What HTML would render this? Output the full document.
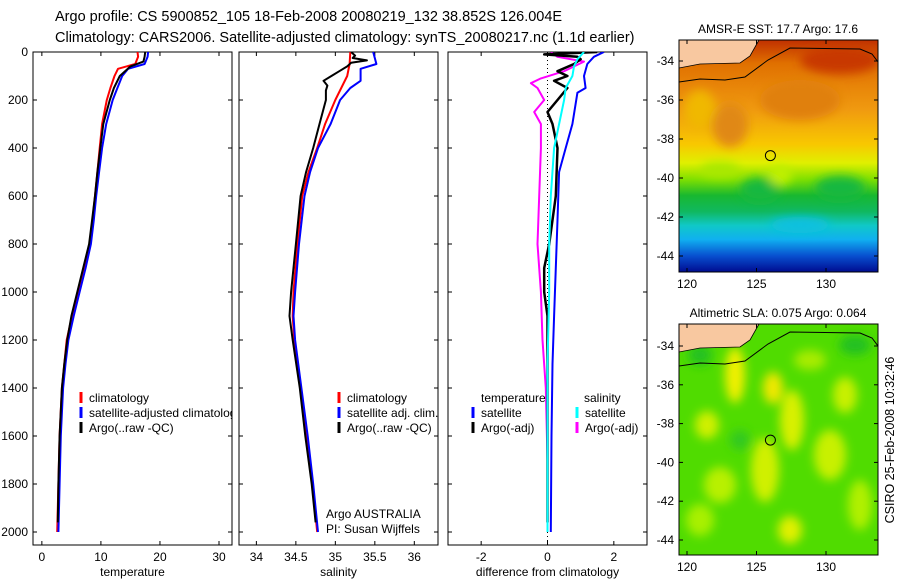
<!DOCTYPE html>
<html><head><meta charset="utf-8"><style>
body{margin:0;background:#fff;}
svg{display:block;font-family:"Liberation Sans",sans-serif;}
</style></head><body>
<svg id="fig" width="900" height="580" viewBox="0 0 900 580">
<defs>
<clipPath id="c1"><rect x="33" y="52" width="199" height="493"/></clipPath>
<clipPath id="c2"><rect x="239" y="52" width="199" height="493"/></clipPath>
<clipPath id="c3"><rect x="448" y="52" width="199" height="493"/></clipPath>
<clipPath id="m1"><rect x="679" y="40" width="199" height="232"/></clipPath>
<clipPath id="m2"><rect x="679" y="324" width="199" height="231"/></clipPath>
<linearGradient id="sstg" x1="0" y1="0" x2="0" y2="1">
<stop offset="0" stop-color="#c03000"/><stop offset="0.1" stop-color="#e07000"/><stop offset="0.3" stop-color="#f09a10"/>
<stop offset="0.45" stop-color="#f8c800"/><stop offset="0.53" stop-color="#e0f000"/><stop offset="0.6" stop-color="#80e000"/>
<stop offset="0.67" stop-color="#18b830"/><stop offset="0.74" stop-color="#10b860"/><stop offset="0.8" stop-color="#10c8c8"/>
<stop offset="0.86" stop-color="#10b0f0"/><stop offset="0.93" stop-color="#0850d0"/><stop offset="1" stop-color="#000c90"/></linearGradient>
<filter id="blur" x="-50%" y="-50%" width="200%" height="200%"><feGaussianBlur stdDeviation="5"/></filter>
</defs>
<text x="55" y="21" font-size="14.5">Argo profile: CS 5900852_105 18-Feb-2008 20080219_132 38.852S 126.004E</text>
<text x="55" y="42" font-size="14.5">Climatology: CARS2006. Satellite-adjusted climatology: synTS_20080217.nc (1.1d earlier)</text>
<g id="p1"></g>
<g id="p2"></g>
<g id="p3"></g>
<g id="maps"></g>
<text x="894" y="440" font-size="12.5" transform="rotate(-90 894 440)" text-anchor="middle">CSIRO 25-Feb-2008 10:32:46</text>
</svg>
<script>
const NS="http://www.w3.org/2000/svg";
function mk(parent,tag,attrs,txt){const e=document.createElementNS(NS,tag);for(const k in attrs)e.setAttribute(k,attrs[k]);if(txt!==undefined)e.textContent=txt;parent.appendChild(e);return e;}

// ---- data ----
const depthTicks=[0,200,400,600,800,1000,1200,1400,1600,1800,2000];
const tempTicks=[0,10,20,30];
const salTicks=[34,34.5,35,35.5,36];
const diffTicks=[-2,0,2];
const tempClimD=[0,20,50,70,100,150,200,300,400,500,600,700,800,900,1000,1100,1200,1300,1400,1600,1800,2000];
const tempClim=[16.2,16.3,15.8,12.9,12.3,11.6,11.0,10.2,9.8,9.4,9.0,8.6,8.1,7.1,6.1,5.1,4.2,3.8,3.4,3.0,2.8,2.6];
const tempSat=[18.0,17.9,17.4,14.6,13.6,12.8,12.0,10.9,10.2,9.7,9.2,8.8,8.3,7.4,6.4,5.4,4.5,4.0,3.6,3.2,3.0,2.8];
const tempArgoD=[0,20,40,60,100,150,200,300,400,500,600,700,800,900,1000,1100,1200,1300,1400,1600,1800,1960];
const tempArgo=[17.5,17.4,17.2,15.0,13.2,12.2,11.5,10.4,9.9,9.4,9.0,8.5,8.0,7.0,6.0,5.0,4.3,3.8,3.4,3.0,2.8,2.7];
const salClimD=[0,50,100,200,300,400,500,600,800,1000,1100,1200,1400,1600,1800,2000];
const salClim=[35.19,35.18,35.15,35.0,34.87,34.77,34.66,34.58,34.52,34.47,34.46,34.48,34.56,34.63,34.71,34.77];
const salSatD=[0,50,70,120,150,200,300,400,500,600,800,1000,1100,1200,1400,1600,1800,2000];
const salSat=[35.48,35.52,35.32,35.32,35.19,35.06,34.94,34.78,34.68,34.61,34.54,34.49,34.47,34.49,34.57,34.65,34.72,34.78];
const salArgoD=[0,15,25,35,45,60,80,100,120,140,160,200,300,400,500,600,800,1000,1100,1200,1400,1600,1800,1960];
const salArgo=[35.2,35.25,35.22,35.4,35.2,35.15,35.05,34.95,34.85,34.9,34.88,34.88,34.8,34.72,34.63,34.56,34.5,34.44,34.42,34.46,34.55,34.62,34.7,34.75];
const dTSatD=[0,20,50,100,150,170,300,400,500,700,900,1100,1300,1600,2000];
const dTSat=[1.7,1.4,1.2,1.1,1.15,0.9,0.75,0.55,0.35,0.3,0.25,0.2,0.15,0.12,0.1];
const dTArgoD=[0,10,20,30,50,80,100,120,150,200,250,300,400,600,800,900,1000,1100,1400,1800,1960];
const dTArgo=[1.5,-0.1,0.9,1.0,0.8,0.3,0.6,0.2,0.6,0.3,0.0,0.15,0.3,0.25,0.05,-0.1,-0.1,0.0,0.0,0.0,0.0];
const dSSatD=[0,30,60,100,150,200,300,400,600,800,1000,1300,2000];
const dSSat=[1.1,0.9,0.8,0.75,0.55,0.5,0.35,0.2,0.1,0.05,0.05,0.0,0.0];
const dSArgoD=[0,20,40,60,80,110,130,150,200,250,300,400,600,800,1000,1200,1400,1700,2000];
const dSArgo=[0.1,0.3,1.1,0.8,0.5,-0.2,-0.5,-0.3,-0.1,-0.4,-0.2,-0.2,-0.25,-0.3,-0.2,-0.15,-0.05,0.0,0.0];
const latTicks=[-34,-36,-38,-40,-42,-44];
const lonTicks=[120,125,130];
const argoLon=126.0, argoLat=-38.85;

// ---- axes ----
const Y0=52, YS=0.24, TOP=52, BOT=545;
function yD(d){return Y0+d*YS;}
function panel(g,x0,w,xmin,xmax,ticks,label,clip,showY,fmt){
  const xs=v=>x0+(v-xmin)/(xmax-xmin)*w;
  mk(g,'rect',{x:x0,y:TOP,width:w,height:BOT-TOP,fill:'none',stroke:'#000','stroke-width':1});
  depthTicks.forEach(d=>{const y=yD(d);
    mk(g,'line',{x1:x0,x2:x0+4,y1:y,y2:y,stroke:'#000'});
    mk(g,'line',{x1:x0+w-4,x2:x0+w,y1:y,y2:y,stroke:'#000'});
    if(showY){const t=mk(g,'text',{x:x0-5,y:y+4,'font-size':12,'text-anchor':'end'},String(d));
      
      }
  });
  ticks.forEach(v=>{const x=xs(v);
    mk(g,'line',{x1:x,x2:x,y1:TOP,y2:TOP+4,stroke:'#000'});
    mk(g,'line',{x1:x,x2:x,y1:BOT-4,y2:BOT,stroke:'#000'});
    const t=mk(g,'text',{x:x,y:BOT+16,'font-size':12,'text-anchor':'middle'},fmt(v));
    
    
  });
  const l=mk(g,'text',{x:x0+w/2,y:576,'font-size':12,'text-anchor':'middle'},label);
  
  
  return xs;
}
function series(g,xs,ds,vs,color,sw,clip,name){
  const pts=ds.map((d,i)=>xs(vs[i]).toFixed(1)+','+yD(d).toFixed(1)).join(' ');
  const p=mk(g,'polyline',{points:pts,fill:'none',stroke:color,'stroke-width':sw,'clip-path':'url(#'+clip+')','stroke-linejoin':'round'});
  
  
}
function legend(g,x,y,color,txt,name){
  mk(g,'line',{x1:x,x2:x,y1:y-10,y2:y+1,stroke:color,'stroke-width':3});
  const t=mk(g,'text',{x:x+8,y:y,'font-size':12},txt);
  
  
}
const p1=document.getElementById('p1'),p2=document.getElementById('p2'),p3=document.getElementById('p3');
const xs1=panel(p1,33,199,-1.5,32.2,tempTicks,'temperature','c1',true,v=>String(v));
series(p1,xs1,tempClimD,tempClim,'#f00',2,'c1','temp-climatology-line');
series(p1,xs1,tempClimD,tempSat,'#00f',2,'c1','temp-satellite-line');
series(p1,xs1,tempArgoD,tempArgo,'#000',2,'c1','temp-argo-line');
const lg1=mk(p1,'g',{'clip-path':'url(#c1)'});
legend(lg1,81,402,'#f00','climatology','legend-climatology');
legend(lg1,81,417,'#00f','satellite-adjusted climatology','legend-satellite-adjusted');
legend(lg1,81,432,'#000','Argo(..raw -QC)','legend-argo');

const xs2=panel(p2,239,199,33.78,36.3,salTicks,'salinity','c2',false,v=>String(v));
series(p2,xs2,salClimD,salClim,'#f00',2,'c2','sal-climatology-line');
series(p2,xs2,salSatD,salSat,'#00f',2,'c2','sal-satellite-line');
series(p2,xs2,salArgoD,salArgo,'#000',2,'c2','sal-argo-line');
legend(p2,339,402,'#f00','climatology','legend-sal-climatology');
legend(p2,339,417,'#00f','satellite adj. clim.','legend-sal-satellite');
legend(p2,339,432,'#000','Argo(..raw -QC)','legend-sal-argo');
mk(p2,'text',{x:326,y:518,'font-size':12},'Argo AUSTRALIA');
mk(p2,'text',{x:326,y:533,'font-size':12},'PI: Susan Wijffels');

const xs3=panel(p3,448,199,-3,3,diffTicks,'difference from climatology','c3',false,v=>String(v));
mk(p3,'line',{x1:xs3(0),x2:xs3(0),y1:TOP,y2:BOT,stroke:'#000','stroke-dasharray':'1,3'});
series(p3,xs3,dSArgoD,dSArgo,'#f0f',2,'c3','diff-sal-argo-line');
series(p3,xs3,dTArgoD,dTArgo,'#000',2.5,'c3','diff-temp-argo-line');
series(p3,xs3,dTSatD,dTSat,'#00f',2,'c3','diff-temp-satellite-line');
series(p3,xs3,dSSatD,dSSat,'#0ff',2,'c3','diff-sal-satellite-line');
mk(p3,'text',{x:481,y:402,'font-size':12},'temperature');
legend(p3,473,417,'#00f','satellite','legend-diff-temp-satellite');
legend(p3,473,432,'#000','Argo(-adj)','legend-diff-temp-argo');
mk(p3,'text',{x:584,y:402,'font-size':12},'salinity');
legend(p3,577,417,'#0ff','satellite','legend-diff-sal-satellite');
legend(p3,577,432,'#f0f','Argo(-adj)','legend-diff-sal-argo');

// ---- maps ----
const maps=document.getElementById('maps');
function map(top,bottom,lat34y,lat44y,clip,title,kind){
  const g=mk(maps,'g',{});
  
  
  const lx=v=>687+(v-120)*13.9;
  const ly=v=>lat34y+(-34-v)*(lat44y-lat34y)/10;
  const c=mk(g,'g',{'clip-path':'url(#'+clip+')'});
  if(kind==='sst'){
    mk(c,'rect',{x:679,y:top,width:199,height:bottom-top,fill:'url(#sstg)'});
    const bl=mk(c,'g',{filter:'url(#blur)'});
    [[700,110,16,20,'#f0b800'],[730,125,18,22,'#e08818'],[800,100,40,20,'#e08010'],[840,60,40,14,'#c83800'],[760,190,20,12,'#18b840'],[840,188,25,12,'#18b840'],[800,225,30,8,'#10c0e0'],[720,170,20,8,'#a8e800'],[780,175,12,10,'#c0f000']].forEach(e=>mk(bl,'ellipse',{cx:e[0],cy:e[1],rx:e[2],ry:e[3],fill:e[4]}));
  } else {
    mk(c,'rect',{x:679,y:top,width:199,height:bottom-top,fill:'#50dc00'});
    const bl=mk(c,'g',{filter:'url(#blur)'});
    [[735,375,10,28,'#f0f000'],[773,388,10,16,'#f0e800'],[792,420,12,30,'#d8f000'],[707,425,12,14,'#d0f000'],[765,470,14,32,'#d0f000'],[845,395,12,18,'#c8f000'],[830,455,16,25,'#c8f000'],[720,485,16,18,'#b8f000'],[860,505,12,25,'#b0f000'],[790,530,12,14,'#e0f000'],[700,355,12,10,'#20c020'],[855,345,16,10,'#20c020'],[700,520,14,16,'#a8f000'],[810,360,16,10,'#a8ec00'],[740,440,10,10,'#30c820']].forEach(e=>mk(bl,'ellipse',{cx:e[0],cy:e[1],rx:e[2],ry:e[3],fill:e[4]}));
  }
  // land
  mk(c,'path',{d:`M679 ${top} L759 ${top} L750 ${top+16} L740 ${top+23} L700 ${top+24} L679 ${top+28} Z`,fill:'#f8c8a0'});
  mk(c,'path',{d:`M679 ${top+28} L700 ${top+24} L740 ${top+23} L750 ${top+16} L759 ${top}`,fill:'none',stroke:'#000','stroke-width':0.8});
  mk(c,'path',{d:`M679 ${top+42} L700 ${top+39} L725 ${top+40} L745 ${top+37} L768 ${top+20} L790 ${top+8} L860 ${top+9} L872 ${top+14} L878 ${top+22}`,fill:'none',stroke:'#000','stroke-width':1});
  mk(g,'rect',{x:679,y:top,width:199,height:bottom-top,fill:'none',stroke:'#000'});
  const o=mk(g,'circle',{cx:lx(argoLon),cy:ly(argoLat),r:5,fill:'none',stroke:'#000','stroke-width':1});
  
  
  latTicks.forEach(v=>{const y=ly(v);
    mk(g,'line',{x1:679,x2:683,y1:y,y2:y,stroke:'#000'});mk(g,'line',{x1:874,x2:878,y1:y,y2:y,stroke:'#000'});
    const t=mk(g,'text',{x:674,y:y+4,'font-size':12,'text-anchor':'end'},String(v));
    
    });
  lonTicks.forEach(v=>{const x=lx(v);
    mk(g,'line',{x1:x,x2:x,y1:top,y2:top+4,stroke:'#000'});mk(g,'line',{x1:x,x2:x,y1:bottom-4,y2:bottom,stroke:'#000'});
    const t=mk(g,'text',{x:x,y:bottom+16,'font-size':12,'text-anchor':'middle'},String(v));
    
    });
  const tt=mk(g,'text',{x:778,y:top-7,'font-size':12,'text-anchor':'middle'},title);
  
  
}
map(40,272,61,256,'m1','AMSR-E SST: 17.7 Argo: 17.6','sst');
map(324,555,346,540,'m2','Altimetric SLA: 0.075 Argo: 0.064','sla');
</script>
</body></html>
